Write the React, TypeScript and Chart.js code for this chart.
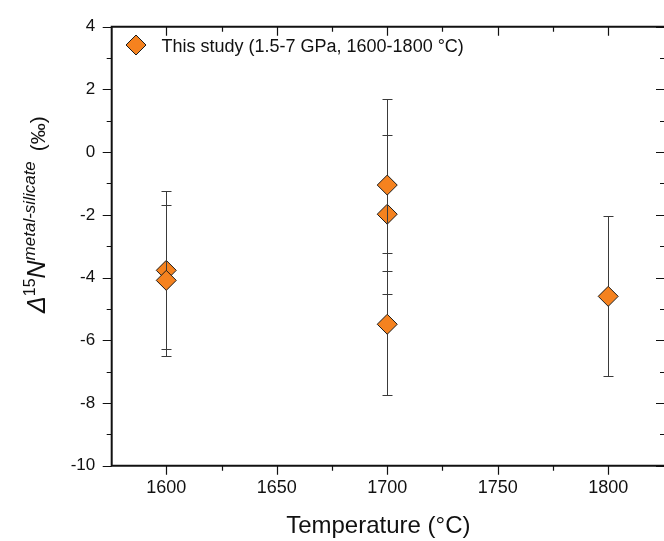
import { useEffect, useRef } from 'react';
import { Chart, registerables } from 'chart.js';

Chart.register(...registerables);

// ---- data ----
const temperatures = [1600, 1600, 1700, 1700, 1700, 1800];
const delta15N = [-3.77, -4.09, -1.98, -1.05, -5.49, -4.6];
const errors = [2.52, 2.4, 2.54, 2.75, 2.26, 2.55];
const legendLabel = 'This study (1.5-7 GPa, 1600-1800 °C)';
const xMajorTicks = [1600, 1650, 1700, 1750, 1800];
const xMinorTicks = [1625, 1675, 1725, 1775];
const yMajorTicks = [-10, -8, -6, -4, -2, 0, 2, 4];
const yMinorTicks = [-9, -7, -5, -3, -1, 1, 3];
const xTitle = 'Temperature (°C)';

const FONT = 'Arial, "Liberation Sans", sans-serif';
const ORANGE = '#F5821F';
const EDGE = '#1c1c1c';

const errorBarPlugin = {
  id: 'errorBars',
  beforeDatasetDraw(chart: any, args: any) {
    const i = args.index;
    const ctx = chart.ctx;
    const xs = chart.scales.x;
    const ys = chart.scales.y;
    const px = Math.round(xs.getPixelForValue(temperatures[i])) + 0.5;
    const pTop = Math.round(ys.getPixelForValue(delta15N[i] + errors[i])) + 0.5;
    const pBot = Math.round(ys.getPixelForValue(delta15N[i] - errors[i])) + 0.5;
    ctx.save();
    ctx.strokeStyle = '#3a3a3a';
    ctx.lineWidth = 1;
    ctx.beginPath();
    ctx.moveTo(px, pTop);
    ctx.lineTo(px, pBot);
    ctx.moveTo(px - 5, pTop);
    ctx.lineTo(px + 5, pTop);
    ctx.moveTo(px - 5, pBot);
    ctx.lineTo(px + 5, pBot);
    ctx.stroke();
    ctx.restore();
  },
};

const framePlugin = {
  id: 'frame',
  afterDraw(chart: any) {
    const ctx = chart.ctx;
    const { left, right, top, bottom } = chart.chartArea;
    const xs = chart.scales.x;
    const ys = chart.scales.y;
    ctx.save();
    ctx.strokeStyle = '#111';
    ctx.lineWidth = 1.2;
    ctx.beginPath();
    // bottom ticks (outward) and top ticks (inward)
    xMajorTicks.forEach((v) => {
      const p = Math.round(xs.getPixelForValue(v)) + 0.5;
      ctx.moveTo(p, bottom);
      ctx.lineTo(p, bottom + 9);
      ctx.moveTo(p, top);
      ctx.lineTo(p, top + 9);
    });
    xMinorTicks.forEach((v) => {
      const p = Math.round(xs.getPixelForValue(v)) + 0.5;
      ctx.moveTo(p, bottom);
      ctx.lineTo(p, bottom + 5);
      ctx.moveTo(p, top);
      ctx.lineTo(p, top + 5);
    });
    // left ticks (outward) and right ticks (inward)
    yMajorTicks.forEach((v) => {
      const p = Math.round(ys.getPixelForValue(v)) + 0.5;
      ctx.moveTo(left, p);
      ctx.lineTo(left - 9, p);
      ctx.moveTo(right, p);
      ctx.lineTo(right - 9, p);
    });
    yMinorTicks.forEach((v) => {
      const p = Math.round(ys.getPixelForValue(v)) + 0.5;
      ctx.moveTo(left, p);
      ctx.lineTo(left - 5, p);
      ctx.moveTo(right, p);
      ctx.lineTo(right - 5, p);
    });
    ctx.stroke();
    // spines
    ctx.lineWidth = 2;
    ctx.beginPath();
    ctx.rect(left, top, right - left, bottom - top);
    ctx.stroke();

    // legend
    const lx = 136;
    const ly = 45;
    ctx.beginPath();
    ctx.moveTo(lx, ly - 10);
    ctx.lineTo(lx + 10, ly);
    ctx.lineTo(lx, ly + 10);
    ctx.lineTo(lx - 10, ly);
    ctx.closePath();
    ctx.fillStyle = ORANGE;
    ctx.fill();
    ctx.lineWidth = 1;
    ctx.strokeStyle = EDGE;
    ctx.stroke();
    ctx.fillStyle = '#111';
    ctx.font = `18px ${FONT}`;
    ctx.textAlign = 'left';
    ctx.textBaseline = 'alphabetic';
    ctx.fillText(legendLabel, 161.5, 51.7);

    // x title
    ctx.font = `24px ${FONT}`;
    ctx.textAlign = 'center';
    ctx.fillText(xTitle, 378.3, 533.3);

    // y title (rotated, with superscripts)
    ctx.save();
    ctx.translate(45, 313);
    ctx.rotate(-Math.PI / 2);
    ctx.textAlign = 'left';
    let cx = 0;
    const seg = (text: string, font: string, dy: number) => {
      ctx.font = font;
      ctx.fillText(text, cx, dy);
      cx += ctx.measureText(text).width;
    };
    seg('Δ', `italic 25px ${FONT}`, 0);
    seg('15', `16px ${FONT}`, -10);
    seg('N', `italic 25px ${FONT}`, 0);
    seg('metal-silicate', `italic 17px ${FONT}`, -10);
    cx += 10;
    seg('(‰)', `21px ${FONT}`, 0);
    ctx.restore();

    ctx.restore();
  },
};

export default function App() {
  const ref = useRef<HTMLCanvasElement>(null);
  useEffect(() => {
    document.body.style.margin = '0';
    const datasets = temperatures.map((t, i) => ({
      label: legendLabel,
      data: [{ x: t, y: delta15N[i] }],
      pointStyle: 'rectRot' as const,
      pointRadius: 10,
      pointHoverRadius: 10,
      backgroundColor: ORANGE,
      borderColor: EDGE,
      borderWidth: 1,
      showLine: false,
      order: -i,
      clip: false as any,
    }));
    const chart = new Chart(ref.current!, {
      type: 'scatter',
      data: { datasets },
      plugins: [errorBarPlugin, framePlugin],
      options: {
        animation: false,
        responsive: false,
        devicePixelRatio: 1,
        layout: { padding: { left: 0, right: 15, top: 15, bottom: 0 } },
        plugins: { legend: { display: false }, tooltip: { enabled: false }, title: { display: false } },
        scales: {
          x: {
            type: 'linear',
            min: 1575.3,
            max: 1825.7,
            grid: { display: false, drawTicks: false },
            border: { display: false },
            afterBuildTicks: (s: any) => {
              s.ticks = xMajorTicks.map((v) => ({ value: v }));
            },
            afterFit: (s: any) => {
              s.height = 75.3;
            },
            ticks: {
              padding: 12,
              color: '#111',
              font: { family: FONT, size: 18 },
              maxRotation: 0,
              callback: (v: any) => String(v),
            },
          },
          y: {
            type: 'linear',
            min: -10,
            max: 4,
            grid: { display: false, drawTicks: false },
            border: { display: false },
            afterBuildTicks: (s: any) => {
              s.ticks = yMajorTicks.map((v) => ({ value: v }));
            },
            afterFit: (s: any) => {
              s.width = 111.7;
            },
            ticks: {
              padding: 16.5,
              color: '#111',
              font: { family: FONT, size: 17 },
              callback: (v: any) => String(v),
            },
          },
        },
      },
    });
    return () => chart.destroy();
  }, []);
  return (
    <div style={{ position: 'fixed', left: 0, top: 0, width: 664, height: 541, overflow: 'hidden', background: '#fff' }}>
      <canvas ref={ref} width={680} height={541} style={{ width: 680, height: 541, display: 'block' }} />
    </div>
  );
}
